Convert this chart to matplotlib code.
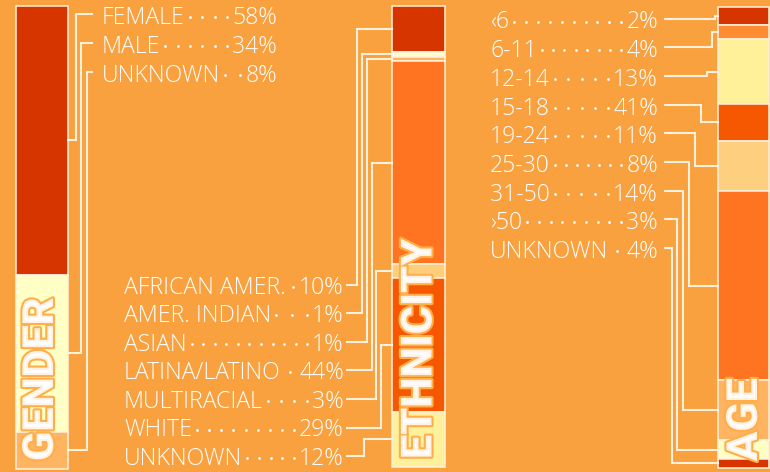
import matplotlib
matplotlib.use('Agg')
import matplotlib.pyplot as plt
import matplotlib.patheffects as pe
import numpy as np

# ---------------- data ----------------
gender_labels = ['FEMALE', 'MALE', 'UNKNOWN']
gender_pct = [58, 34, 8]

eth_labels = ['AFRICAN AMER.', 'AMER. INDIAN', 'ASIAN', 'LATINA/LATINO',
              'MULTIRACIAL', 'WHITE', 'UNKNOWN']
eth_pct = [10, 1, 1, 44, 3, 29, 12]

age_labels = ['\u20396', '6-11', '12-14', '15-18', '19-24', '25-30', '31-50',
              '\u203a50', 'UNKNOWN']
age_pct_text = [2, 4, 13, 41, 11, 8, 14, 3, 4]
# segment sizes as drawn in the bar
age_bar_pct = [4, 3, 14, 8, 11, 41, 13, 4, 2]

# ---------------- styles ----------------
W, H = 770, 472
BG = '#F9A03F'
LINE = '#FFF1DC'
FONT = 'Open Sans'

gender_colors = ['#D63500', '#FFFFC6', '#FFB462']
eth_colors = ['#D63500', '#FFFFC6', '#FFB462', '#FF7420', '#FFCE7C',
              '#F55800', '#FFF19B']
age_colors = ['#D63500', '#FF8C30', '#FFF09A', '#F55800', '#FFCF80',
              '#FF7420', '#FFB462', '#FFFFC6', '#D63500']

fig = plt.figure(figsize=(W / 100, H / 100), dpi=100, facecolor=BG)


def make_bar(x0, x1, y0, y1, values, colors):
    ax = fig.add_axes([x0 / W, 1 - y1 / H, (x1 - x0) / W, (y1 - y0) / H])
    total = float(sum(values))
    bottoms = np.concatenate([[0], np.cumsum(values)[:-1]])
    bars = ax.bar(0.5, values, width=1.0, bottom=bottoms, color=colors,
                  edgecolor=LINE, linewidth=1.1)
    for b in bars:
        b.set_clip_on(False)
    ax.set_xlim(0, 1)
    ax.set_ylim(total, 0)
    ax.axis('off')
    mids = bottoms + np.asarray(values) / 2.0
    return ax, mids


ax_g, mid_g = make_bar(16, 68, 6, 469, gender_pct, gender_colors)
ax_e, mid_e = make_bar(392, 445, 6, 467, eth_pct, eth_colors)
ax_a, mid_a = make_bar(718, 769, 7, 468, age_bar_pct, age_colors)

ov = fig.add_axes([0, 0, 1, 1])
ov.set_xlim(0, W)
ov.set_ylim(H, 0)
ov.axis('off')
ov.patch.set_alpha(0)

renderer = fig.canvas.get_renderer()
inv = ov.transData.inverted()


def to_ov(ax, x, y):
    return inv.transform(ax.transData.transform((x, y)))


def row(xl, xr, yc, name, pct):
    kw = dict(va='baseline', fontsize=16.6, family=FONT, fontweight='light',
              color='white')
    t1 = ov.text(xl, yc + 8, name, ha='left', **kw)
    t2 = ov.text(xr, yc + 8, f'{pct}%', ha='right', **kw)
    b1 = inv.transform(t1.get_window_extent(renderer))
    b2 = inv.transform(t2.get_window_extent(renderer))
    start = b1[:, 0].max() + 5
    stop = b2[:, 0].min() - 5
    n = int((stop - start) // 11) + 1
    if n > 1:
        xs = np.linspace(start, stop, n)
    else:
        xs = np.array([(start + stop) / 2])
    ov.plot(xs, [yc + 1] * len(xs), 'o', ms=2.0, color='white', mec='none')


lw = 1.5
# ---- gender ----
g_y = [16, 45, 74]
g_vx = [75.5, 81, 87]
for i, (lab, p) in enumerate(zip(gender_labels, gender_pct)):
    row(102, 277, g_y[i], lab, p)
    bx, by = to_ov(ax_g, 1, mid_g[i])
    ly = g_y[i] - 2
    ov.plot([92, g_vx[i], g_vx[i], bx], [ly, ly, by, by], color=LINE, lw=lw,
            solid_joinstyle='miter')

# ---- ethnicity ----
e_y = [285.5 + 28.6 * i for i in range(len(eth_labels))]
e_vx = [357, 362, 367, 372, 376, 381, 364]
for i, (lab, p) in enumerate(zip(eth_labels, eth_pct)):
    row(124, 344, e_y[i], lab, p)
    bx, by = to_ov(ax_e, 0, mid_e[i])
    ly = e_y[i] - 1
    ov.plot([347, e_vx[i], e_vx[i], bx], [ly, ly, by, by], color=LINE, lw=lw,
            solid_joinstyle='miter')

# ---- age ----
a_y = [20.5 + 28.7 * i for i in range(len(age_labels))]
a_vx = [715, 712, 707, 701, 695, 689, 683, 677, 672]
for i, (lab, p) in enumerate(zip(age_labels, age_pct_text)):
    row(490, 658, a_y[i], lab, p)
    bx, by = to_ov(ax_a, 0, mid_a[i])
    ly = a_y[i] - 2
    ov.plot([665, a_vx[i], a_vx[i], bx], [ly, ly, by, by], color=LINE, lw=lw,
            solid_joinstyle='miter')

# ---- big vertical titles ----
title_kw = dict(rotation=90, ha='center', va='bottom', fontsize=31,
                family='Roboto', fontweight='black', color=(1, 1, 1, 0.85),
                path_effects=[pe.withStroke(linewidth=3, foreground='#FFAE4A')])
ov.text(41.5, 461, 'GENDER', **title_kw)
ov.text(420, 459, 'ETHNICITY', **title_kw)
ov.text(745.5, 461, 'AGE', **title_kw)

fig.savefig('out.png', dpi=100, facecolor=BG)
